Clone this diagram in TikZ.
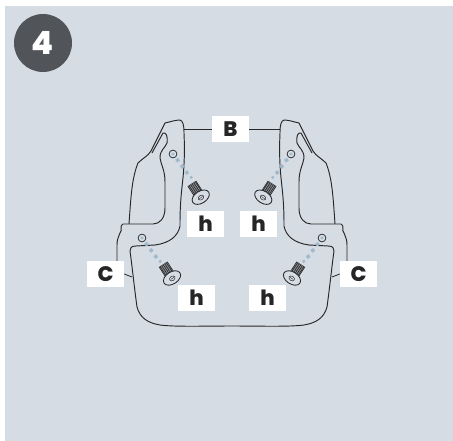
\documentclass[tikz,border=0pt]{standalone}
\usepackage{fontspec}
\setmainfont{Poppins}[BoldFont={Poppins ExtraBold}]
\usepackage{tikz}
\usetikzlibrary{positioning, calc}
\definecolor{panelBlue}{RGB}{213, 220, 227}
\definecolor{badgeGray}{RGB}{81, 84, 89}
\definecolor{partLine}{RGB}{40, 40, 42}
\definecolor{dotBlue}{RGB}{160, 185, 203}

\newcommand{\screw}[3]{%
  \begin{scope}[shift={(#1,#2)}, rotate=#3]
    \draw[partLine, line width=0.6pt, fill=panelBlue] (-4.8,-11) rectangle (4.8,1);
    \foreach \t in {-10,-8.8,...,0} {
      \draw[partLine, line width=0.7pt] (-4.8,\t) -- (4.8,\t);
    }
    \draw[partLine, line width=0.85pt, fill=panelBlue] (0,5) ellipse (9.5 and 6);
    \draw[partLine, line width=0.5pt] (0,5.5) ellipse (3 and 2.2);
    \draw[partLine, line width=0.4pt] (-2,5.5) -- (2,5.5);
  \end{scope}
}

\begin{document}
\begin{tikzpicture}[
    x=1pt, y=-1pt,
    partOutline/.style={partLine, line width=0.95pt, line join=round},
    leaderLine/.style={partLine, line width=0.8pt},
    holeMark/.style={partLine, line width=0.75pt},
    dotMark/.style={fill=dotBlue, draw=none, rotate=35, minimum size=3.4pt, inner sep=0pt},
    tagBox/.style={fill=white, minimum width=37pt, minimum height=26pt, inner sep=0pt, font=\fontsize{21}{21}\selectfont\bfseries, text=black!85},
  ]
    \useasboundingbox (0,0) rectangle (453,441);
    \fill[panelBlue] (5,6) rectangle (453,441);

    % Badge
    \node[circle, fill=badgeGray, minimum size=58pt, inner sep=0pt, text=white,
          font=\fontsize{32}{32}\selectfont\bfseries] (badge) at (43,43) {4};

    % Left half, right half is its mirror image
    \foreach \m/\o in {1/0, -1/464} {
      \begin{scope}[shift={(\o,0)}, xscale=\m]
        % Upper bracket
        \draw[partOutline] (129,224) .. controls (131,195) and (132,178) .. (138,163)
              .. controls (143,158) and (148,156) .. (151,151)
              -- (165,123) .. controls (170,122) and (175,120) .. (180,120)
              .. controls (183,121) and (184,125) .. (184,133)
              .. controls (185,155) and (184,170) .. (182,187)
              .. controls (180,205) and (180,218) .. (180,226)
              .. controls (178,236) and (170,243) .. (155,245);
        \draw[partOutline] (152,153) -- (163,133) .. controls (166,132) and (168,136) .. (167,143)
              .. controls (165,148) and (160,150) .. (160,158)
              .. controls (161,165) and (165,170) .. (165,182)
              -- (165,208) .. controls (165,218) and (160,224) .. (153,224)
              -- (129,224) -- (123,224) .. controls (119,226) and (123,230) .. (120,233)
              .. controls (118,238) and (117,240) .. (117,245) -- (117,262);
        % Lower bracket
        \draw[partOutline] (155,245) -- (136,246) .. controls (131,246) and (130,248) .. (130,251)
              .. controls (132,265) and (134,285) .. (137,307)
              .. controls (140,318) and (148,323) .. (160,325)
              .. controls (175,327) and (205,326) .. (232,326);
        % Hole and dots
        \foreach \hx/\hy in {173/154, 142/238} {
          \draw[holeMark] (\hx,\hy) circle (3.9);
          \fill[dotBlue] (\hx,\hy) circle (1.6);
          \foreach \d in {1,2,3} {
            \node[dotMark] (dot\hx\d) at ($(\hx,\hy)+(\d*4.6,\d*6.2)$) {};
          }
          \node[dotMark, minimum size=2.4pt] (dotEnd\hx) at ($(\hx,\hy)+(18.2,23.4)$) {};
        }
        % Screws
        \screw{198}{193}{33}
        \screw{169.3}{273.8}{33}
      \end{scope}
    }

    % Labels
    \node[tagBox] (tagB) at (230.5,129) {B};
    \node[tagBox] (tagCl) at (105.5,274) {C};
    \node[tagBox] (tagCr) at (358.5,274) {C};
    \node[tagBox] (tagHa) at (205.5,224) {h};
    \node[tagBox] (tagHb) at (258.5,224) {h};
    \node[tagBox] (tagHc) at (196.5,298) {h};
    \node[tagBox] (tagHd) at (267.5,298) {h};

    % Leaders
    \coordinate (armBl) at (184,129);
    \coordinate (armBr) at (280,129);
    \coordinate (armCl) at (132,277);
    \coordinate (armCr) at (332,277);
    \draw[leaderLine] (tagB) -- (armBl);
    \draw[leaderLine] (tagB) -- (armBr);
    \draw[leaderLine] (tagCl.east) -- (armCl);
    \draw[leaderLine] (tagCr.west) -- (armCr);
\end{tikzpicture}
\end{document}
